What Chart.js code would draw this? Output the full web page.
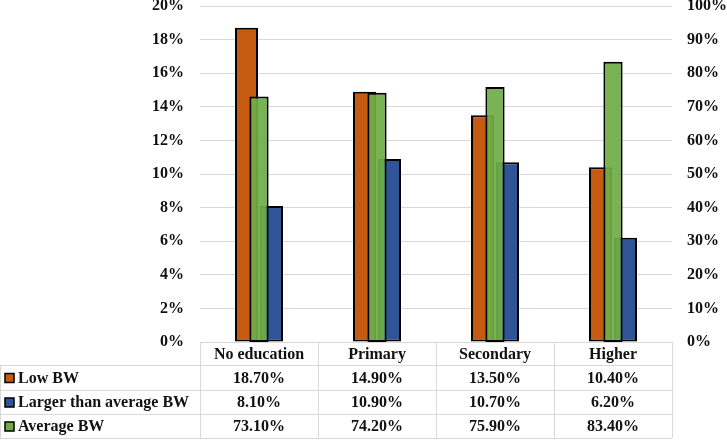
<!DOCTYPE html>
<html>

<head>
    <meta charset="utf-8">
    <title>Birth weight by education</title>
    <style>
        body { margin: 0; background: #fff; }
        #wrap { width: 727px; height: 440px; }
    </style>
</head>

<body>
    <div id="wrap">
        <canvas id="myChart" width="727" height="440"></canvas>
    </div>

    <script src="https://cdn.jsdelivr.net/npm/chart.js"></script>

    <script>
        const categories = ['No education', 'Primary', 'Secondary', 'Higher'];
        const seriesNames = ['Low BW', 'Larger than average BW', 'Average BW'];
        const lowBW = [18.7, 14.9, 13.5, 10.4];
        const largerBW = [8.1, 10.9, 10.7, 6.2];
        const averageBW = [73.1, 74.2, 75.9, 83.4];

        const COLORS = {
            orange: '#C55A11',
            blue: '#2F5597',
            green: 'rgba(112, 173, 71, 0.93)',
            grid: '#d9d9d9',
            text: '#111'
        };
        const FONT = 'bold 16px "Liberation Serif", "Times New Roman", serif';
        const tickFont = { family: '"Liberation Serif", serif', size: 16, weight: 'bold' };

        // data table under the plot, drawn with the x scale positions
        const dataTable = {
            id: 'dataTable',
            afterDraw(chart) {
                const ctx = chart.ctx;
                const x = chart.scales.x;
                const area = chart.chartArea;
                const colW = x.width / categories.length;
                const top = area.bottom;
                const rowH = [23, 25, 24, 24];
                const rowsData = [lowBW, largerBW, averageBW];
                const swatch = [COLORS.orange, COLORS.blue, 'rgb(112,173,71)'];

                ctx.save();
                ctx.strokeStyle = COLORS.grid;
                ctx.lineWidth = 1;

                let ys = [top];
                for (let h of rowH) ys.push(ys[ys.length - 1] + h);

                // horizontal lines
                ctx.beginPath();
                ctx.moveTo(area.left, Math.round(ys[0]) + 0.5);
                ctx.lineTo(area.right, Math.round(ys[0]) + 0.5);
                for (let i = 1; i < ys.length; i++) {
                    ctx.moveTo(0, Math.round(ys[i]) + 0.5);
                    ctx.lineTo(area.right, Math.round(ys[i]) + 0.5);
                }
                // vertical lines
                for (let c = 0; c <= categories.length; c++) {
                    const xx = Math.round(area.left + c * colW) + 0.5;
                    ctx.moveTo(xx, ys[0]);
                    ctx.lineTo(xx, ys[ys.length - 1]);
                }
                ctx.moveTo(0.5, ys[1]);
                ctx.lineTo(0.5, ys[ys.length - 1]);
                ctx.stroke();

                ctx.fillStyle = COLORS.text;
                ctx.font = FONT;
                ctx.textBaseline = 'middle';
                ctx.textAlign = 'center';
                categories.forEach((c, i) => {
                    ctx.fillText(c, x.getPixelForValue(i), (ys[0] + ys[1]) / 2 + 1);
                });

                rowsData.forEach((vals, r) => {
                    const cy = (ys[r + 1] + ys[r + 2]) / 2 + 1;
                    ctx.fillStyle = swatch[r];
                    ctx.fillRect(5, cy - 5, 9, 9);
                    ctx.strokeStyle = '#000';
                    ctx.lineWidth = 1.5;
                    ctx.strokeRect(5, cy - 5, 9, 9);
                    ctx.fillStyle = COLORS.text;
                    ctx.textAlign = 'left';
                    ctx.fillText(seriesNames[r], 18, cy);
                    ctx.textAlign = 'center';
                    vals.forEach((v, i) => {
                        ctx.fillText(v.toFixed(2) + '%', x.getPixelForValue(i), cy);
                    });
                });
                ctx.restore();
            }
        };

        const config = {
            type: 'bar',
            data: {
                labels: categories,
                datasets: [
                    {
                        label: seriesNames[2],
                        data: averageBW,
                        yAxisID: 'y2',
                        grouped: false,
                        backgroundColor: COLORS.green,
                        borderColor: '#000',
                        borderWidth: 2,
                        borderSkipped: false,
                        categoryPercentage: 1,
                        barPercentage: 0.163,
                        order: 0
                    },
                    {
                        label: seriesNames[0],
                        data: lowBW,
                        yAxisID: 'y',
                        backgroundColor: COLORS.orange,
                        borderColor: '#000',
                        borderWidth: 2,
                        borderSkipped: false,
                        categoryPercentage: 0.424,
                        barPercentage: 0.92,
                        order: 1
                    },
                    {
                        label: seriesNames[1],
                        data: largerBW,
                        yAxisID: 'y',
                        backgroundColor: COLORS.blue,
                        borderColor: '#000',
                        borderWidth: 2,
                        borderSkipped: false,
                        categoryPercentage: 0.424,
                        barPercentage: 0.92,
                        order: 1
                    }
                ]
            },
            options: {
                responsive: false,
                animation: false,
                layout: {
                    padding: { top: 6, bottom: 98, left: 0, right: 0 }
                },
                plugins: {
                    legend: { display: false },
                    tooltip: { enabled: false }
                },
                scales: {
                    x: {
                        display: false,
                        offset: true
                    },
                    y: {
                        position: 'left',
                        min: 0,
                        max: 20,
                        border: { display: false },
                        grid: { color: COLORS.grid, drawTicks: false },
                        ticks: {
                            stepSize: 2,
                            padding: 16,
                            color: COLORS.text,
                            font: tickFont,
                            callback: (v) => v + '%'
                        },
                        afterFit: (s) => { s.width = 200; s.paddingTop = 0; s.paddingBottom = 0; }
                    },
                    y2: {
                        position: 'right',
                        min: 0,
                        max: 100,
                        border: { display: false },
                        grid: { display: false, drawTicks: false },
                        ticks: {
                            stepSize: 10,
                            padding: 15,
                            color: COLORS.text,
                            font: tickFont,
                            callback: (v) => v + '%'
                        },
                        afterFit: (s) => { s.width = 55; s.paddingTop = 0; s.paddingBottom = 0; }
                    }
                }
            },
            plugins: [dataTable]
        };

        const ctx = document.getElementById('myChart');
        new Chart(ctx, config);
    </script>

</body>

</html>
